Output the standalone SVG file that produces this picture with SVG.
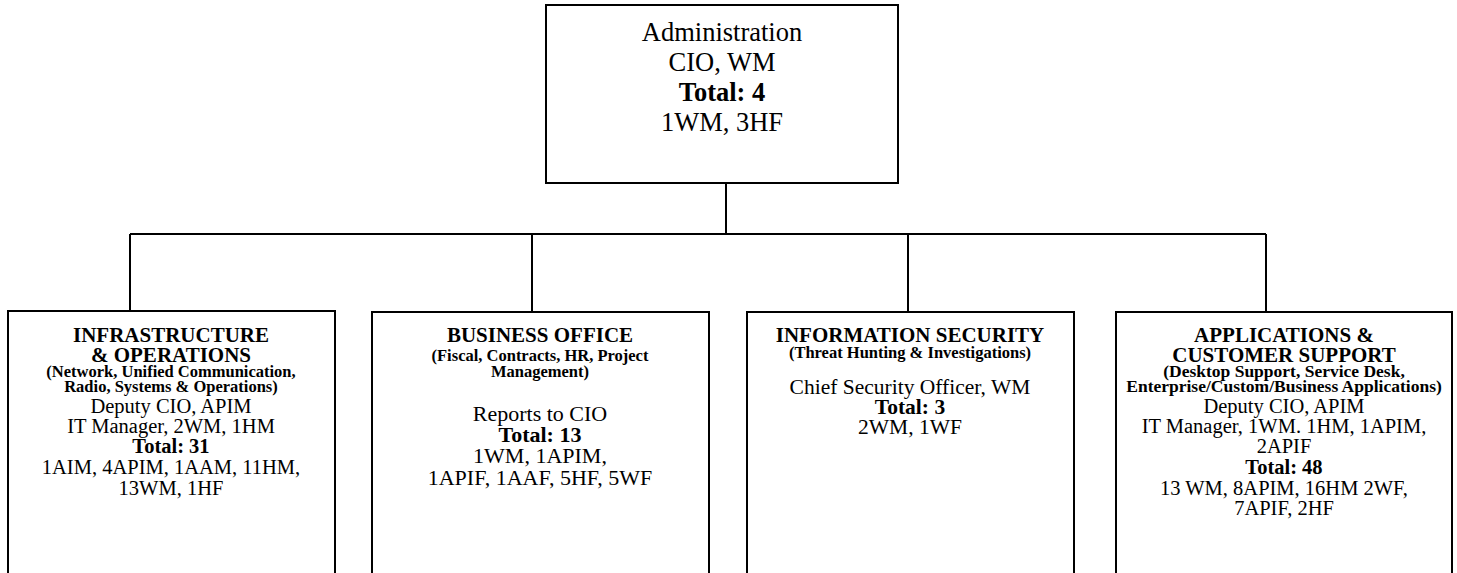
<svg xmlns="http://www.w3.org/2000/svg" width="1457" height="573" viewBox="0 0 1457 573">
<style>
.box{fill:#fff;stroke:#000;stroke-width:2}
.ln{stroke:#000;stroke-width:2;fill:none}
text{font-family:"Liberation Serif","Times New Roman",serif;fill:#000;text-anchor:middle}
.t{font-size:26.5px}
.r{font-size:20.5px}
.r2{font-size:22px}
.r3{font-size:21.5px}
.h{font-size:21px;font-weight:bold}
.s{font-size:16.5px;font-weight:bold}
.s2{font-size:17.5px;font-weight:bold}
.b{font-weight:bold}
</style>
<rect width="1457" height="573" fill="#fff"/>
<g id="connectors">
<path class="ln" d="M726 183V234M130 234H1266M130 234V311M532 234V312M908 234V312M1266 234V312"/>
</g>
<g id="admin">
<rect class="box" x="546" y="5" width="352" height="178"/>
<text class="t" x="722" y="41">Administration</text>
<text class="t" x="722" y="71">CIO, WM</text>
<text class="t b" x="722" y="101">Total: 4</text>
<text class="t" x="722" y="131">1WM, 3HF</text>
</g>
<g id="infra">
<rect class="box" x="8" y="311" width="327" height="280"/>
<text class="h" x="171" y="342">INFRASTRUCTURE</text>
<text class="h" x="171" y="362">&amp; OPERATIONS</text>
<text class="s" x="171" y="377">(Network, Unified Communication,</text>
<text class="s" x="171" y="392">Radio, Systems &amp; Operations)</text>
<text class="r" x="171" y="413">Deputy CIO, APIM</text>
<text class="r" x="171" y="433">IT Manager, 2WM, 1HM</text>
<text class="r b" x="171" y="453">Total: 31</text>
<text class="r" x="171" y="474">1AIM, 4APIM, 1AAM, 11HM,</text>
<text class="r" x="171" y="495">13WM, 1HF</text>
</g>
<g id="business">
<rect class="box" x="372" y="312" width="337" height="280"/>
<text class="h" x="540" y="342">BUSINESS OFFICE</text>
<text class="s" x="540" y="361">(Fiscal, Contracts, HR, Project</text>
<text class="s" x="540" y="377">Management)</text>
<text class="r2" x="540" y="421">Reports to CIO</text>
<text class="r2 b" x="540" y="442">Total: 13</text>
<text class="r2" x="540" y="463">1WM, 1APIM,</text>
<text class="r2" x="540" y="485">1APIF, 1AAF, 5HF, 5WF</text>
</g>
<g id="infosec">
<rect class="box" x="747" y="312" width="327" height="280"/>
<text class="h" x="910" y="342">INFORMATION SECURITY</text>
<text class="s" x="910" y="358">(Threat Hunting &amp; Investigations)</text>
<text class="r3" x="910" y="394">Chief Security Officer, WM</text>
<text class="r3 b" x="910" y="414">Total: 3</text>
<text class="r3" x="910" y="434">2WM, 1WF</text>
</g>
<g id="apps">
<rect class="box" x="1116" y="312" width="336" height="280"/>
<text class="h" x="1284" y="342">APPLICATIONS &amp;</text>
<text class="h" x="1284" y="362">CUSTOMER SUPPORT</text>
<text class="s2" x="1284" y="377">(Desktop Support, Service Desk,</text>
<text class="s2" x="1284" y="392">Enterprise/Custom/Business Applications)</text>
<text class="r" x="1284" y="413">Deputy CIO, APIM</text>
<text class="r" x="1284" y="433">IT Manager, 1WM. 1HM, 1APIM,</text>
<text class="r" x="1284" y="453">2APIF</text>
<text class="r b" x="1284" y="474">Total: 48</text>
<text class="r" x="1284" y="495">13 WM, 8APIM, 16HM 2WF,</text>
<text class="r" x="1284" y="515">7APIF, 2HF</text>
</g>
</svg>
